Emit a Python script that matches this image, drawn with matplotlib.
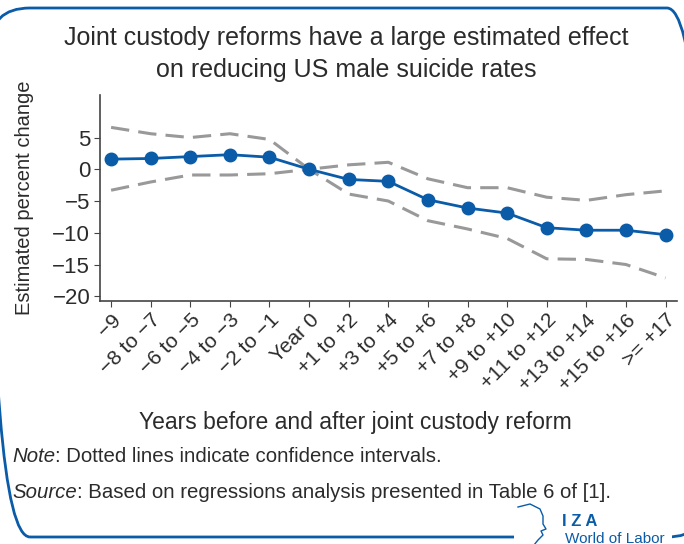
import matplotlib
matplotlib.use("Agg")
import matplotlib.pyplot as plt
from matplotlib.patches import FancyBboxPatch, Rectangle
from matplotlib.lines import Line2D
from matplotlib.transforms import IdentityTransform

# Donnees
periods = ["\u22129", "\u22128 to \u22127", "\u22126 to \u22125", "\u22124 to \u22123", "\u22122 to \u22121",
           "Year 0", "+1 to +2", "+3 to +4", "+5 to +6", "+7 to +8", "+9 to +10",
           "+11 to +12", "+13 to +14", "+15 to +16", ">= +17"]
estimate = [1.6, 1.7, 2.0, 2.3, 1.9, 0.0, -1.6, -1.9, -4.8, -6.1, -6.9, -9.2, -9.6, -9.6, -10.3]
upper_ci = [6.6, 5.6, 5.0, 5.6, 4.7, 0.0, 0.7, 1.1, -1.5, -2.9, -2.9, -4.4, -4.9, -4.0, -3.4]
lower_ci = [-3.3, -2.0, -0.9, -0.9, -0.7, 0.0, -3.9, -5.0, -8.1, -9.4, -10.9, -14.1, -14.2, -15.0, -17.1]
yticks = [5, 0, -5, -10, -15, -20]

plt.rcParams['font.family'] = ['Liberation Sans', 'DejaVu Sans']
text_col = "#2b2b2b"
blue = "#0a5ba8"
W, H = 684, 544

fig = plt.figure(figsize=(6.84, 5.44), dpi=100)
ax = fig.add_axes([100 / W, 1 - 300.7 / H, 577 / W, 205.7 / H])

x = list(range(len(periods)))
ax.plot(x, upper_ci, color="#999999", lw=2.2, dashes=(6, 3))
ax.plot(x, lower_ci, color="#999999", lw=2.2, dashes=(6, 3))
ax.plot(x, estimate, color=blue, lw=2, marker="o", markersize=9, zorder=3)

ax.set_xlim(-0.28, 14.29)
ax.set_ylim(-20.7, 11.7)
ax.set_yticks(yticks)
ax.set_yticklabels([str(v).replace("-", "\u2212") for v in yticks], fontsize=16, color=text_col)
ax.set_xticks(x)
ax.set_xticklabels(periods, rotation=45, ha="right", rotation_mode="anchor", fontsize=15, color=text_col)
for s in ["top", "right"]:
    ax.spines[s].set_visible(False)
for s in ["left", "bottom"]:
    ax.spines[s].set_color("#444444")
    ax.spines[s].set_linewidth(1.2)
ax.tick_params(direction="out", length=4, color="#444444", pad=3)
ax.set_ylabel("Estimated percent change", fontsize=14.5, color=text_col)
ax.yaxis.set_label_coords((34 - 100) / 577, 0.5)

# Titre et textes
fig.text(346 / W, 1 - 54 / H, "Joint custody reforms have a large estimated effect\non reducing US male suicide rates",
         ha="center", va="center", fontsize=18, color=text_col, linespacing=1.38)
fig.text(355 / W, 1 - 423 / H, "Years before and after joint custody reform",
         ha="center", va="center", fontsize=16.5, color=text_col)

fig.canvas.draw()
renderer = fig.canvas.get_renderer()
for y_px, label, rest in [(457, "Note", ": Dotted lines indicate confidence intervals."),
                          (493, "Source", ": Based on regressions analysis presented in Table 6 of [1].")]:
    t = fig.text(12 / W, 1 - y_px / H, label, style="italic", fontsize=14.7, color=text_col, va="center")
    bb = t.get_window_extent(renderer)
    fig.text(bb.x1 / W, 1 - y_px / H, rest, fontsize=14.7, color=text_col, va="center")

# Cadre arrondi (en pixels)
frame = FancyBboxPatch((-10, H - 537), 717, 529,
                       boxstyle="round,pad=0,rounding_size=40", transform=IdentityTransform(),
                       fill=False, edgecolor=blue, lw=2, zorder=0)
fig.patches.append(frame)
fig.patches.append(Rectangle((514 / W, 0), 158 / W, 20 / H, transform=fig.transFigure,
                             facecolor="white", edgecolor="none", zorder=1))

# Logo IZA
head_x = [518, 530, 540, 543, 543, 546, 541, 543, 538, 534]
head_y = [507, 504, 509, 516, 524, 529, 531, 535, 540, 545]
fig.add_artist(Line2D([v / W for v in head_x], [1 - v / H for v in head_y],
                      transform=fig.transFigure, color=blue, lw=1, zorder=2))
fig.text(562 / W, 1 - 521 / H, "I Z A", fontsize=12, fontweight="bold", color=blue, va="center")
fig.text(565 / W, 1 - 539 / H, "World of Labor", fontsize=11, color=blue, va="center")

fig.savefig("out.png", dpi=100)
